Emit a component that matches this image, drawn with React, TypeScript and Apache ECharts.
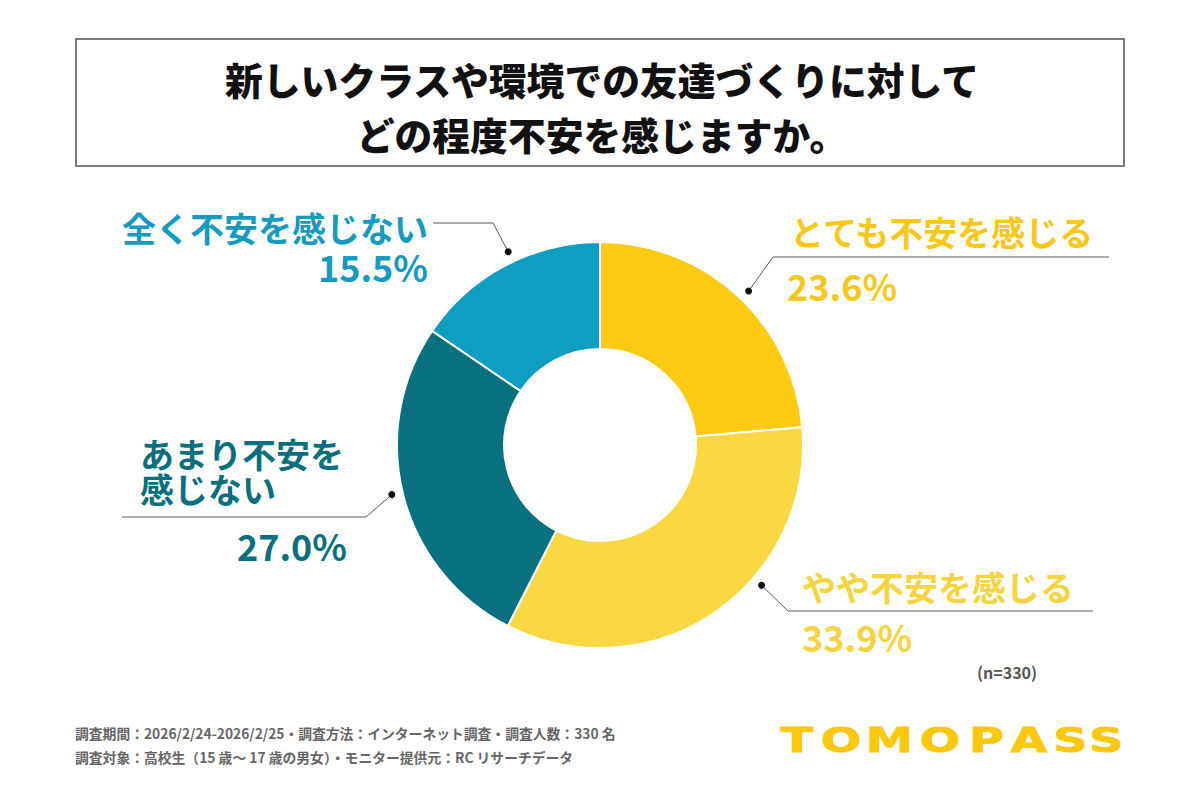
import React, { useEffect, useRef } from "react";
import * as echarts from "echarts";

// Survey answers, clockwise from 12 o'clock
const categories = ["とても不安を感じる", "やや不安を感じる", "あまり不安を感じない", "全く不安を感じない"];
const shares = [23.6, 33.9, 27.0, 15.5];
const sliceColors = ["#FCCB12", "#F9D841", "#08707F", "#0F9EC1"];
const labelColors = ["#F8C718", "#F6D43E", "#0A6F7D", "#159BBF"];
// Where a category name wraps onto a second line (character index), or null
const labelBreaks: (number | null)[] = [null, null, 6, null];
const sampleSize = 330;

const titleLines = ["新しいクラスや環境での友達づくりに対して", "どの程度不安を感じますか。"];
const footnotes = [
  `調査期間：2026/2/24-2026/2/25・調査方法：インターネット調査・調査人数：${sampleSize} 名`,
  "調査対象：高校生（15 歳～ 17 歳の男女）・モニター提供元：RC リサーチデータ",
];
const brand = "TOMOPASS";

const JP = '"Noto Sans CJK JP", "Noto Sans", sans-serif';
const CX = 600;
const CY = 445;
const R_IN = 96;
const R_OUT = 203;
const R_DOT = 214;

type Align = "left" | "right";
interface LabelPlace {
  nudge: number;
  elbow: [number, number];
  end: [number, number];
  nameAlign: Align;
  nameX: number;
  nameY: number; // centre of the (possibly two-line) name block
  valueAlign: Align;
  valueX: number;
  valueY: number;
  stacked?: boolean; // name and value drawn as one right-aligned block
}

// Leader-line and text placement for each category
const labelPlaces: LabelPlace[] = [
  { nudge: 1.5, elbow: [773, 257], end: [1109, 257], nameAlign: "left", nameX: 790, nameY: 231, valueAlign: "left", valueX: 787, valueY: 285 },
  { nudge: -15, elbow: [788, 611], end: [1093, 611], nameAlign: "left", nameX: 802, nameY: 586, valueAlign: "left", valueX: 802, valueY: 636 },
  { nudge: 1, elbow: [366, 517], end: [122, 517], nameAlign: "left", nameX: 140, nameY: 471, valueAlign: "right", valueX: 347, valueY: 545 },
  { nudge: 2.5, elbow: [493, 223], end: [433, 223], nameAlign: "right", nameX: 428, nameY: 246.5, valueAlign: "right", valueX: 428, valueY: 0, stacked: true },
];

// Brand letters: centre x of each glyph
const brandLetterX = [797, 841, 889.5, 940, 986.5, 1029, 1070.5, 1106.5];

const NAME_SIZE = 34;
const VALUE_SIZE = 36;

function buildLabels(): any[] {
  const total = shares.reduce((a, b) => a + b, 0);
  const els: any[] = [];
  let acc = 0;
  shares.forEach((v, i) => {
    const place = labelPlaces[i];
    const mid = ((acc + v / 2) / total) * 360 + place.nudge;
    acc += v;
    const rad = (mid * Math.PI) / 180;
    const dx = CX + R_DOT * Math.sin(rad);
    const dy = CY - R_DOT * Math.cos(rad);
    els.push({
      type: "polyline",
      silent: true,
      shape: { points: [[dx, dy], place.elbow, place.end] },
      style: { stroke: "#5a5a5a", lineWidth: 1, fill: null },
    });
    els.push({
      type: "circle",
      silent: true,
      shape: { cx: dx, cy: dy, r: 3.5 },
      style: { fill: "#111" },
    });
    const name = categories[i];
    const br = labelBreaks[i];
    const nameText = br == null ? name : `${name.slice(0, br)}\n${name.slice(br)}`;
    const pct = `${v.toFixed(1)}%`;
    const color = labelColors[i];

    if (place.stacked) {
      els.push({
        type: "text",
        silent: true,
        x: place.nameX,
        y: place.nameY,
        style: {
          text: `{n|${nameText}}\n{v|${pct}}`,
          align: place.nameAlign,
          verticalAlign: "middle",
          rich: {
            n: { fill: color, fontSize: NAME_SIZE, fontWeight: "bold", fontFamily: JP, lineHeight: 39, align: place.nameAlign },
            v: { fill: color, fontSize: VALUE_SIZE, fontWeight: "bold", fontFamily: JP, lineHeight: 39, align: place.nameAlign },
          },
        },
      });
      return;
    }

    els.push({
      type: "text",
      silent: true,
      x: place.nameX,
      y: place.nameY,
      style: {
        text: nameText,
        fill: color,
        fontSize: NAME_SIZE,
        lineHeight: 35,
        fontWeight: "bold",
        fontFamily: JP,
        align: place.nameAlign,
        verticalAlign: "middle",
      },
    });
    els.push({
      type: "text",
      silent: true,
      x: place.valueX,
      y: place.valueY,
      style: {
        text: pct,
        fill: color,
        fontSize: VALUE_SIZE,
        fontWeight: "bold",
        fontFamily: JP,
        align: place.valueAlign,
        verticalAlign: "middle",
      },
    });
  });
  return els;
}

export default function App() {
  const ref = useRef<HTMLDivElement>(null);

  useEffect(() => {
    if (!ref.current) return;
    const chart = echarts.init(ref.current, null, { renderer: "svg" });

    const graphics: any[] = [
      {
        type: "rect",
        silent: true,
        shape: { x: 76, y: 39, width: 1048, height: 127 },
        style: { fill: "#fff", stroke: "#7c7c7c", lineWidth: 2 },
      },
      ...titleLines.map((t, k) => ({
        type: "text",
        silent: true,
        x: 602,
        y: 78 + k * 55,
        style: {
          text: t,
          fill: "#111",
          fontSize: 37.8,
          fontWeight: 900,
          fontFamily: JP,
          align: "center",
          verticalAlign: "middle",
        },
      })),
      ...buildLabels(),
      {
        type: "text",
        silent: true,
        x: 977,
        y: 672,
        style: {
          text: `(n=${sampleSize})`,
          fill: "#555",
          fontSize: 16,
          fontWeight: "bold",
          fontFamily: JP,
          align: "left",
          verticalAlign: "middle",
        },
      },
      ...footnotes.map((t, k) => ({
        type: "text",
        silent: true,
        x: 75,
        y: 733 + k * 24,
        style: {
          text: t,
          fill: "#666",
          fontSize: 13.8,
          fontWeight: "bold",
          fontFamily: JP,
          align: "left",
          verticalAlign: "middle",
        },
      })),
      ...brand.split("").map((ch, k) => ({
        type: "text",
        silent: true,
        x: brandLetterX[k],
        y: 740,
        scaleX: 1.4,
        style: {
          text: ch,
          fill: "#FCC80E",
          fontSize: 34,
          fontWeight: "bold",
          fontFamily: '"DejaVu Sans", sans-serif',
          align: "center",
          verticalAlign: "middle",
          stroke: "#FCC80E",
          lineWidth: 0.8,
        },
      })),
    ];

    chart.setOption({
      animation: false,
      backgroundColor: "#ffffff",
      series: [
        {
          type: "pie",
          center: [CX, CY],
          radius: [R_IN, R_OUT],
          startAngle: 90,
          clockwise: true,
          silent: true,
          label: { show: false },
          labelLine: { show: false },
          itemStyle: { borderColor: "#ffffff", borderWidth: 2 },
          data: categories.map((name, i) => ({
            name,
            value: shares[i],
            itemStyle: { color: sliceColors[i] },
          })),
        },
      ],
      graphic: graphics,
    });

    return () => chart.dispose();
  }, []);

  return (
    <div
      style={{ position: "fixed", left: 0, top: 0, width: 1200, height: 800, background: "#fff" }}
    >
      <div ref={ref} style={{ width: 1200, height: 800 }} />
    </div>
  );
}
